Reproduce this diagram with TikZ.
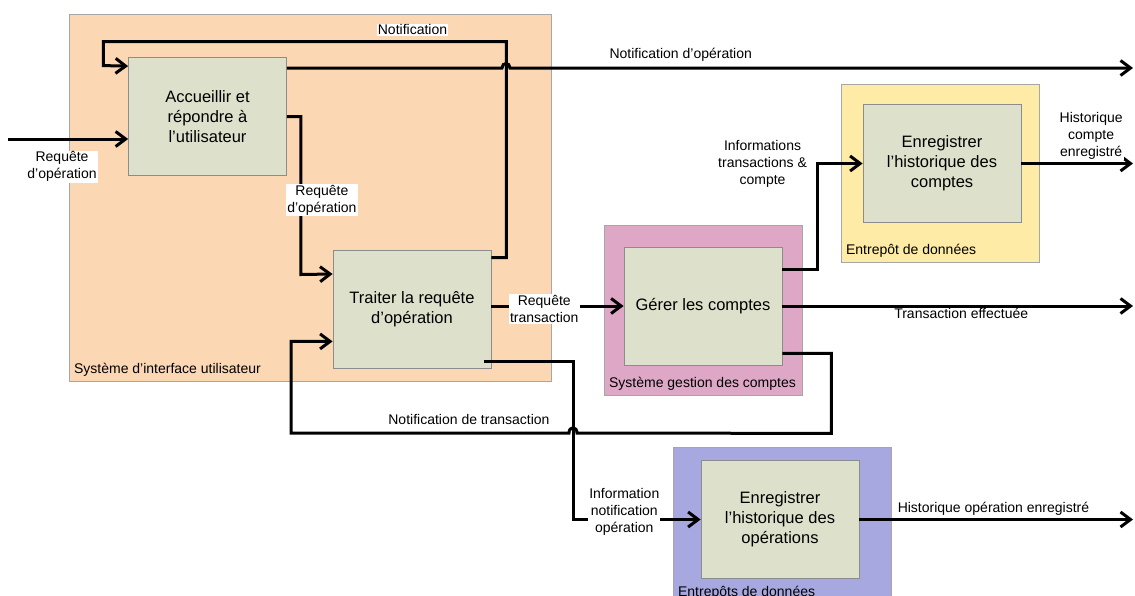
\documentclass[tikz,border=0pt]{standalone}
\usepackage{fontspec}
\setmainfont{Liberation Sans}
\usetikzlibrary{arrows.meta}

\definecolor{uiorange}{RGB}{252,215,180}
\definecolor{procgreen}{RGB}{221,225,203}
\definecolor{gestpink}{RGB}{223,167,198}
\definecolor{stockyellow}{RGB}{254,235,165}
\definecolor{stockblue}{RGB}{168,168,224}

\newcommand{\procfont}{\fontsize{16.5}{20}\selectfont}
\newcommand{\flowfont}{\fontsize{14}{17}\selectfont}

\begin{document}
\begin{tikzpicture}[
    x = 1pt, y = -1pt,
    line width = 3pt,
    >= {Straight Barb[length = 10pt, width = 15pt]},
    container/.style = {draw = black!35, line width = 0.8pt},
    process/.style = {draw = black!45, line width = 0.8pt,
      fill = procgreen,
      font = \procfont, align = center,
      minimum width = 158pt, minimum height = 118pt},
    flowlabel/.style = {fill = white, font = \flowfont,
      align = center, inner sep = 1pt},
    tag/.style = {font = \flowfont, anchor = south west, inner sep = 4pt},
    ]

    \useasboundingbox (0, 0) rectangle (1135, 595);

    % systems and data stores
    \node at (310, 197.5) [container, fill = uiorange,
      minimum width = 482pt, minimum height = 367pt, name = ui] {};
    \node at (703, 310) [container, fill = gestpink,
      minimum width = 198pt, minimum height = 170pt, name = gestion] {};
    \node at (940, 173) [container, fill = stockyellow,
      minimum width = 198pt, minimum height = 178pt, name = store_c] {};
    \node at (782, 525.5) [container, fill = stockblue,
      minimum width = 218pt, minimum height = 157pt, name = store_o] {};

    \node at (ui.south west) [tag, name = ui_tag]
    {Système d’interface utilisateur};
    \node at (gestion.south west) [tag, name = gestion_tag]
    {Système gestion des comptes};
    \node at (store_c.south west) [tag, name = store_c_tag]
    {Entrepôt de données};
    \node at (store_o.south west) [tag, name = store_o_tag]
    {Entrepôts de données};

    % processes
    \node at (207.5, 116.5) [process, name = accueil]
    {Accueillir et\\répondre à\\l’utilisateur};
    \node at (412, 309) [process, name = traiter]
    {Traiter la requête\\d’opération};
    \node at (703, 306) [process, name = gerer] {Gérer les comptes};
    \node at (942, 163.5) [process, name = hist_c]
    {Enregistrer\\l’historique des\\comptes};
    \node at (780, 519.5) [process, name = hist_o]
    {Enregistrer\\l’historique des\\opérations};

    \coordinate (entree) at (8, 139);
    \coordinate (bord) at (1133, 0);
    \coordinate (sortie_notif) at (1133, 68);

    % flows
    \draw [->] (entree) to node [flowlabel, below = 10pt, pos = 0.45]
    {Requête\\d’opération} (entree -| accueil.west);

    \draw [->] (accueil.east) -- ++(14, 0) -- node [flowlabel, pos = 0.53,
      xshift = 21pt] {Requête\\d’opération}
    ++(0, 158) -- ([yshift = 35]traiter.west);

    \draw [->] ([yshift = -8]traiter.north east) -- ++(15, 0) -- ++(0, -216)
    -- node [flowlabel, above = 4pt, pos = 0.233] {Notification}
    ++(-403, 0) -- ++(0, 24) -- ([yshift = -9]accueil.north west);

    \draw [->] ([yshift = -11]accueil.north east) -- (502, 68)
    .. controls (502, 62) and (510, 62) .. (510, 68)
    -- node [flowlabel, above = 4pt, pos = 0.274]
    {Notification d’opération} (sortie_notif);

    \draw [->] (traiter.east |- gerer.west) to node [flowlabel, pos = 0.4,
      yshift = -3pt] {Requête\\transaction} (gerer.west);

    \draw [->] ([yshift = 12]gerer.south east) -- ++(49, 0) -- ++(0, 80)
    -- (577, 433) .. controls (577, 426) and (569, 426) .. (569, 433)
    -- node [flowlabel, above = 6pt, pos = 0.36]
    {Notification de transaction} (291, 433)
    |- ([yshift = 27]traiter.south west);

    \draw [->] ([yshift = -23]gerer.north east) -- ++(35, 0)
    |- node [flowlabel, pos = 0.5, left = 8pt]
    {Informations\\transactions \&\\compte} (hist_c.west);

    \draw [->] (hist_c.east) to node [flowlabel, above = 2pt, pos = 0.625]
    {Historique\\compte\\enregistré} (hist_c.east -| bord);

    \draw [->] (gerer.east) to node [flowlabel, below = 0pt, pos = 0.51]
    {Transaction effectuée} (gerer.east -| bord);

    \draw [->] ([xshift = -7, yshift = 7]traiter.south east) -- ++(89, 0)
    |- node [flowlabel, pos = 0.7, yshift = 8pt]
    {Information\\notification\\opération} (hist_o.west);

    \draw [->] (hist_o.east) to node [flowlabel, above = 2pt, pos = 0.49]
    {Historique opération enregistré} (hist_o.east -| bord);

  \end{tikzpicture}
\end{document}
